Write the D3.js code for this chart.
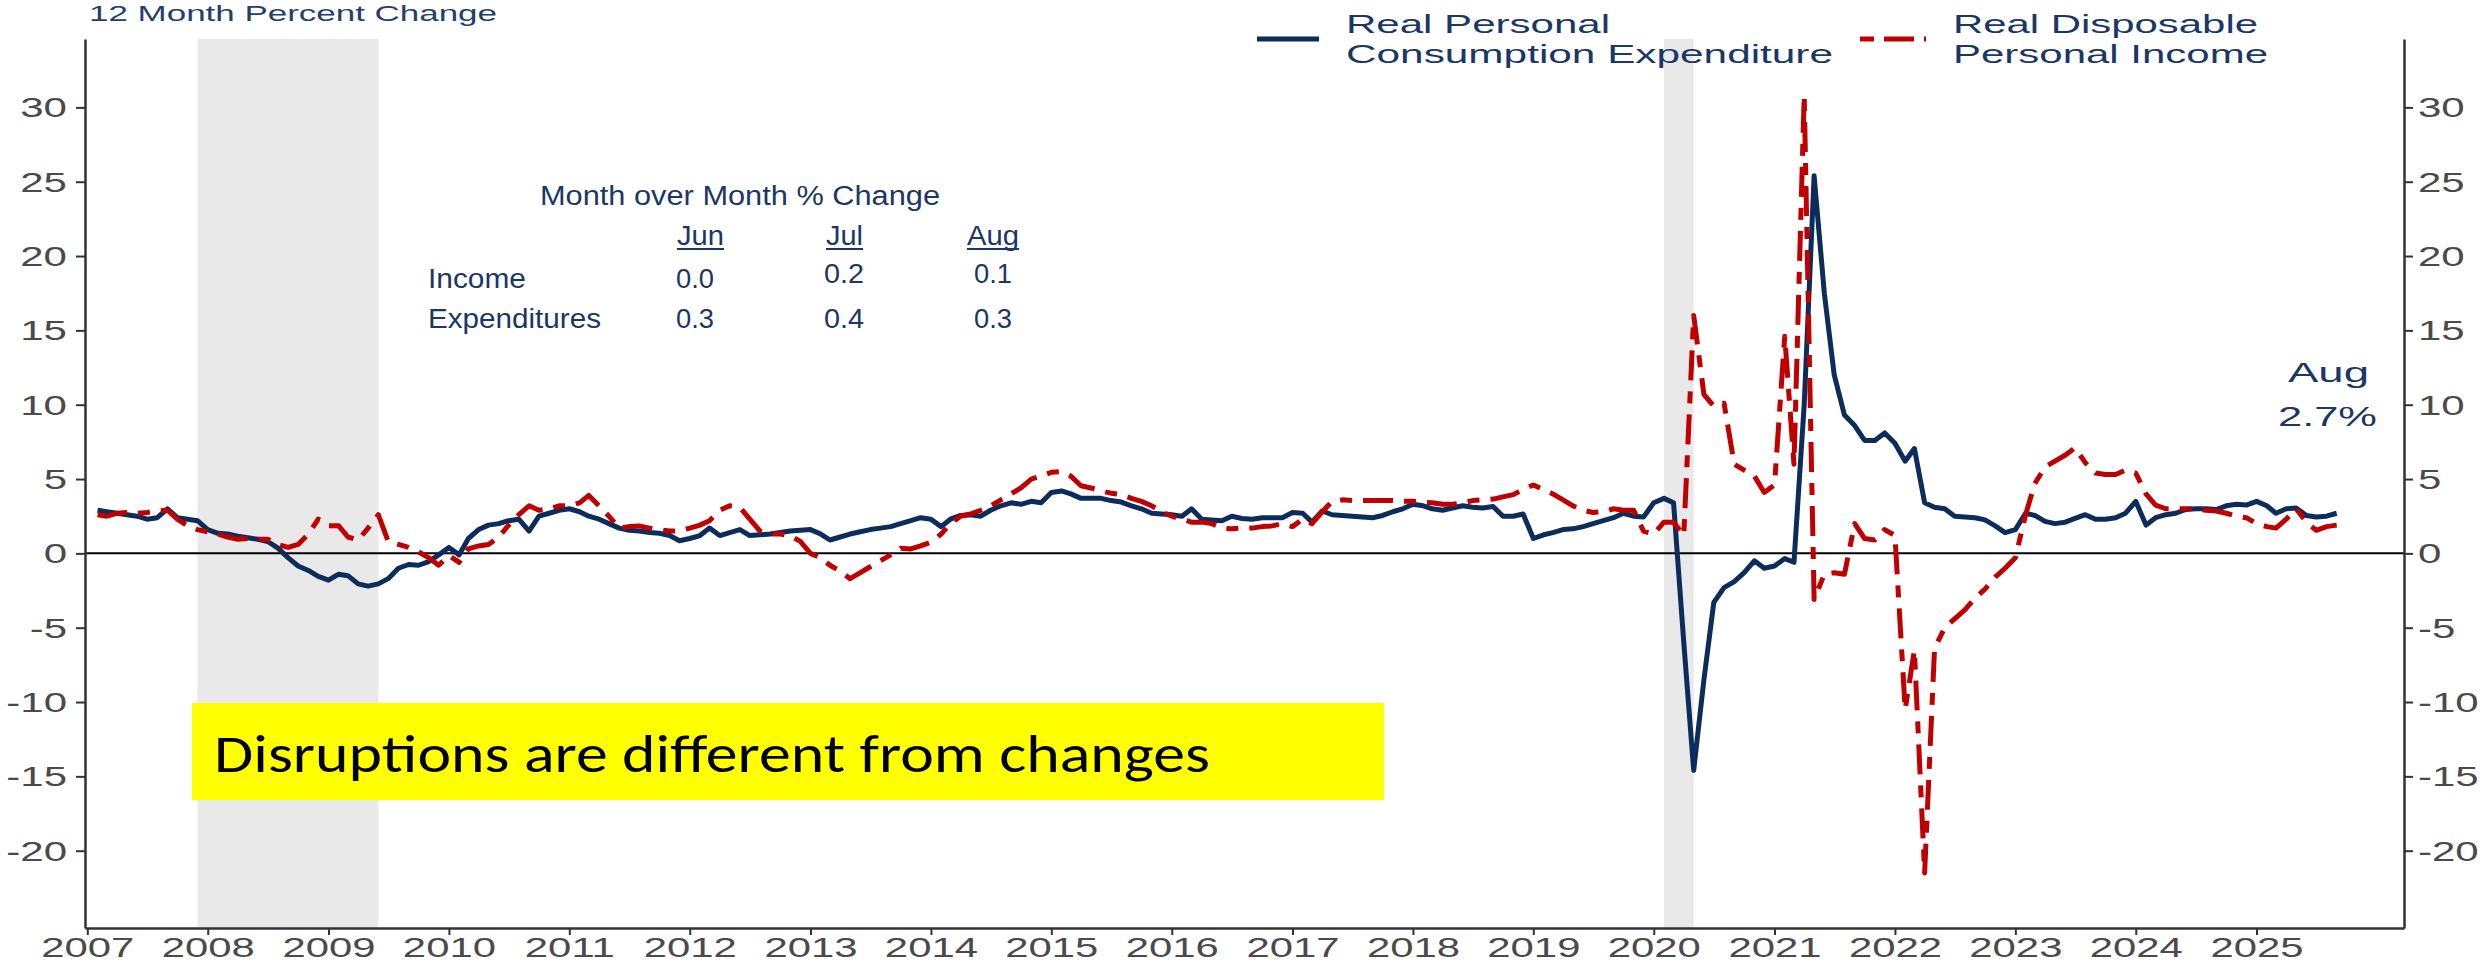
<!DOCTYPE html>
<html><head><meta charset="utf-8">
<script src="https://cdn.jsdelivr.net/npm/d3@7"></script>
<style>html,body{margin:0;padding:0;background:#fff;} svg{display:block;}</style>
</head><body>
<svg id="chart" width="2486" height="964"></svg>
<script>
// ---------- DATA ----------
const firstYear = 2007; // monthly series start Jan 2007
const pceValues = [
 2.9,2.8,2.7,2.6,2.5,2.3,2.4,3.0,2.4,2.3,2.2,1.6,          // 2007
 1.35,1.3,1.15,1.05,0.95,0.8,0.35,-0.3,-0.85,-1.15,-1.55,-1.8, // 2008
 -1.4,-1.5,-2.05,-2.2,-2.05,-1.7,-1.0,-0.75,-0.8,-0.55,-0.1,0.4, // 2009
 -0.1,1.0,1.6,1.9,2.0,2.2,2.3,1.5,2.5,2.7,2.9,3.0,         // 2010
 2.8,2.5,2.3,2.0,1.7,1.55,1.5,1.4,1.35,1.2,0.85,1.0,       // 2011
 1.2,1.7,1.2,1.4,1.6,1.2,1.25,1.3,1.4,1.5,1.55,1.6,        // 2012
 1.3,0.9,1.1,1.3,1.45,1.6,1.7,1.8,2.0,2.2,2.4,2.3,         // 2013
 1.8,2.3,2.55,2.6,2.5,2.9,3.2,3.4,3.3,3.5,3.4,4.1,         // 2014
 4.2,4.0,3.7,3.7,3.7,3.55,3.45,3.2,3.0,2.7,2.65,2.6,       // 2015
 2.5,3.0,2.3,2.25,2.2,2.5,2.35,2.3,2.4,2.4,2.4,2.75,       // 2016
 2.7,2.1,2.85,2.6,2.55,2.5,2.45,2.4,2.55,2.8,3.0,3.3,      // 2017
 3.2,3.0,2.9,3.05,3.2,3.1,3.05,3.15,2.5,2.5,2.65,1.0,      // 2018
 1.25,1.4,1.6,1.65,1.8,2.0,2.2,2.4,2.7,2.5,2.45,3.4,       // 2019
 3.7,3.4,-6.0,-14.6,-8.5,-3.3,-2.3,-1.9,-1.3,-0.5,-1.0,-0.85, // 2020
 -0.35,-0.6,10.0,25.4,17.5,12.0,9.3,8.6,7.6,7.6,8.1,7.4,   // 2021
 6.2,7.05,3.4,3.1,3.0,2.5,2.45,2.4,2.25,1.85,1.4,1.6,      // 2022
 2.7,2.55,2.15,2.0,2.1,2.35,2.6,2.3,2.3,2.4,2.7,3.5,       // 2023
 1.9,2.4,2.6,2.7,2.95,3.0,3.0,2.95,3.2,3.3,3.25,3.5,       // 2024
 3.2,2.7,3.0,3.05,2.55,2.45,2.5,2.7                        // 2025
];
const incomeValues = [
 2.6,2.5,2.7,2.75,2.7,2.75,2.85,2.9,2.3,1.85,1.6,1.45,     // 2007
 1.3,1.1,0.95,1.0,0.95,0.95,0.6,0.4,0.6,1.3,2.3,1.85,      // 2008
 1.85,1.1,0.9,1.7,2.6,0.8,0.6,0.4,0.1,-0.3,-0.8,-0.15,     // 2009
 -0.6,0.3,0.5,0.6,1.1,1.9,2.6,3.2,2.9,3.0,3.2,3.2,         // 2010
 3.4,3.9,3.2,2.5,1.7,1.8,1.85,1.7,1.6,1.5,1.5,1.7,         // 2011
 1.9,2.2,2.9,3.2,3.1,2.3,1.5,1.3,1.3,1.2,0.8,0.0,          // 2012
 -0.3,-0.8,-1.2,-1.7,-1.3,-0.9,-0.5,-0.1,0.35,0.3,0.5,0.75,// 2013
 1.3,2.0,2.5,2.65,2.9,3.2,3.6,4.0,4.4,5.0,5.2,5.45,        // 2014
 5.5,5.2,4.55,4.4,4.2,4.05,3.95,3.7,3.5,3.2,2.8,2.5,       // 2015
 2.3,2.1,2.1,2.0,1.7,1.65,1.7,1.7,1.8,1.85,2.0,1.8,        // 2016
 2.3,2.0,2.8,3.5,3.6,3.55,3.55,3.55,3.55,3.55,3.5,3.5,     // 2017
 3.45,3.4,3.3,3.3,3.4,3.55,3.6,3.65,3.8,3.95,4.3,4.6,      // 2018
 4.3,4.0,3.6,3.2,2.9,2.75,2.8,3.0,2.9,2.9,1.5,1.3,         // 2019
 2.1,2.1,1.2,16.0,10.7,9.9,10.1,6.0,5.6,5.2,4.1,4.6,       // 2020
 14.6,6.0,30.8,-3.1,-1.4,-1.3,-1.4,2.0,1.0,0.9,1.6,1.2,    // 2021
 -10.5,-6.5,-21.5,-6.4,-5.0,-4.4,-3.8,-3.0,-2.4,-1.6,-1.0,-0.3, // 2022
 2.6,4.7,5.8,6.2,6.6,7.1,6.1,5.4,5.3,5.3,5.6,5.4,          // 2023
 4.0,3.25,3.0,3.0,3.0,3.0,2.9,2.85,2.7,2.5,2.4,2.0,        // 2024
 1.8,1.7,2.3,3.0,2.1,1.55,1.8,1.9                          // 2025
];
const yTickValues = [-20,-15,-10,-5,0,5,10,15,20,25,30];
const xTickYears = [2007,2008,2009,2010,2011,2012,2013,2014,2015,2016,2017,2018,2019,2020,2021,2022,2023,2024,2025];
const recessions = [["2007-12-01","2009-06-01"],["2020-02-01","2020-05-01"]];
const seriesNames = [["Real Personal","Consumption Expenditure"],["Real Disposable","Personal Income"]];
const titleText = "12 Month Percent Change";
const tableTitle = "Month over Month % Change";
const tableMonths = ["Jun","Jul","Aug"];
const tableRows = ["Income","Expenditures"];
const incomeMoM = ["0.0","0.2","0.1"];
const expendMoM = ["0.3","0.4","0.3"];
const latestLabel = ["Aug","2.7%"];
const calloutText = "Disruptions are different from changes";

// ---------- SETUP ----------
const svg = d3.select("#chart");
const NAVY = "#1a3766", BLUE = "#0c2d5c", RED = "#c00000";
const FONT = "'Liberation Sans', Arial, sans-serif";
const L = 85, R = 2404, T = 39, B = 928;
const x = d3.scaleTime().domain([new Date(2006,11,25), new Date(2026,2,24)]).range([L, R]);
const y = d3.scaleLinear().domain([-25.2, 34.6]).range([B, T]);
const monthDate = i => new Date(firstYear, i + 1, 1); // plotted at month end

function txt(s, px, py, size, width, opts = {}) {
  const t = svg.append("text").attr("x", px).attr("y", py)
    .attr("font-family", opts.family || FONT)
    .attr("font-size", size).attr("fill", opts.fill || NAVY)
    .attr("text-anchor", opts.anchor || "start").text(s);
  if (width) t.attr("textLength", width).attr("lengthAdjust", "spacingAndGlyphs");
  return t;
}
// widen tick labels horizontally (reference text is stretched ~1.5x)
function stretch(sel, k) {
  sel.each(function () {
    const w = this.getComputedTextLength();
    d3.select(this).attr("textLength", w * k).attr("lengthAdjust", "spacingAndGlyphs");
  });
}

// recession shading
const pd = s => new Date(s + "T00:00:00");
svg.append("g").selectAll("rect").data(recessions).join("rect")
  .attr("x", d => x(pd(d[0])))
  .attr("width", d => x(pd(d[1])) - x(pd(d[0])))
  .attr("y", T).attr("height", B - T).attr("fill", "#e9e9e9");

// zero line
svg.append("line").attr("x1", L).attr("x2", R).attr("y1", y(0)).attr("y2", y(0))
  .attr("stroke", "#000").attr("stroke-width", 2);

// lines
const line = d3.line().x((d, i) => x(monthDate(i))).y(d => y(d));
svg.append("path").datum(pceValues).attr("d", line).attr("fill", "none")
  .attr("stroke", BLUE).attr("stroke-width", 5).attr("stroke-linejoin", "round");
svg.append("path").datum(incomeValues).attr("d", line).attr("fill", "none")
  .attr("stroke", RED).attr("stroke-width", 5).attr("stroke-linejoin", "round")
  .attr("stroke-dasharray", "30,11,12,11");

// axes
const yFmt = d => String(d); // plain hyphen-minus as in reference
function styleAxis(g, size) {
  g.select(".domain").attr("stroke", "#333").attr("stroke-width", 2.5);
  g.selectAll(".tick line").attr("stroke", "#333").attr("stroke-width", 2);
  g.selectAll(".tick text").attr("fill", "#4a4a4a").attr("font-size", size)
    .attr("font-family", FONT);
}
const gl = svg.append("g").attr("transform", `translate(${L},0)`)
  .call(d3.axisLeft(y).tickValues(yTickValues).tickFormat(yFmt).tickSize(9).tickSizeOuter(0));
styleAxis(gl, 28);
gl.selectAll(".tick text").attr("x", -18).attr("dy", "0.34em");
stretch(gl.selectAll(".tick text"), 1.5);

const gr = svg.append("g").attr("transform", `translate(${R},0)`)
  .call(d3.axisRight(y).tickValues(yTickValues).tickFormat(yFmt).tickSize(9).tickSizeOuter(0));
styleAxis(gr, 28);
gr.selectAll(".tick text").attr("x", 14).attr("dy", "0.34em");
stretch(gr.selectAll(".tick text"), 1.5);

const gb = svg.append("g").attr("transform", `translate(0,${B})`)
  .call(d3.axisBottom(x).tickValues(xTickYears.map(yr => new Date(yr, 0, 1)))
    .tickFormat(d3.timeFormat("%Y")).tickSize(7).tickSizeOuter(0));
styleAxis(gb, 27);
gb.selectAll(".tick text").attr("y", 29).attr("dy", 0);
stretch(gb.selectAll(".tick text"), 1.55);

// title
txt(titleText, 89, 21, 22, 408, {fill: "#243f6c"});

// legend
svg.append("line").attr("x1", 1257).attr("x2", 1319).attr("y1", 39).attr("y2", 39)
  .attr("stroke", BLUE).attr("stroke-width", 5);
svg.append("line").attr("x1", 1860).attr("x2", 1926).attr("y1", 39).attr("y2", 39)
  .attr("stroke", RED).attr("stroke-width", 5).attr("stroke-dasharray", "14,10,30,10");
txt(seriesNames[0][0], 1346, 33, 25, 264);
txt(seriesNames[0][1], 1346, 63, 25, 487);
txt(seriesNames[1][0], 1953, 33, 25, 305);
txt(seriesNames[1][1], 1953, 63, 25, 315);

// month-over-month table
txt(tableTitle, 540, 205, 27, 400);
const monthPos = [[677, 47], [826, 37], [967, 52]];
tableMonths.forEach((m, i) => {
  txt(m, monthPos[i][0], 245, 27, monthPos[i][1]);
  svg.append("line").attr("x1", monthPos[i][0]).attr("x2", monthPos[i][0] + monthPos[i][1])
    .attr("y1", 249).attr("y2", 249).attr("stroke", NAVY).attr("stroke-width", 2);
});
txt(tableRows[0], 428, 288, 27, 98);
txt(tableRows[1], 428, 328, 27, 173);
const numPos = [676, 824, 974], numW = [38, 40, 38];
const incomeBase = [288, 283, 283];
incomeMoM.forEach((v, i) => txt(v, numPos[i], incomeBase[i], 27, numW[i]));
expendMoM.forEach((v, i) => txt(v, numPos[i], 328, 27, numW[i]));

// latest annotation
txt(latestLabel[0], 2288, 382, 27, 81);
txt(latestLabel[1], 2278, 426, 27, 99);

// callout box
svg.append("rect").attr("x", 192).attr("y", 703).attr("width", 1192).attr("height", 97).attr("fill", "#ffff00");
txt(calloutText, 214, 772, 54, 996, {fill: "#000", family: "Carlito, Lato, 'Open Sans', sans-serif"});
</script>
</body></html>
